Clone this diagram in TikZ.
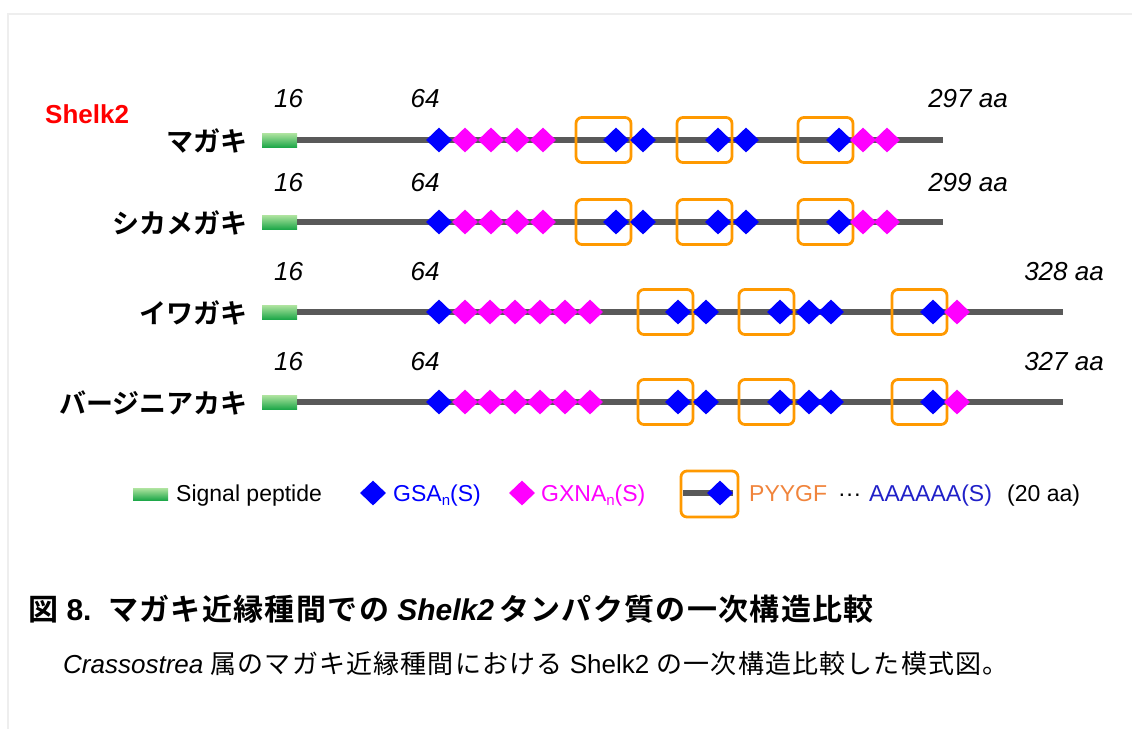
\documentclass[tikz,border=0pt]{standalone}
\usepackage{fontspec}
\setmainfont{Liberation Sans}
\newfontfamily\jp{Noto Sans CJK JP}[BoldFont={Noto Sans CJK JP Bold}]
\newfontfamily\jpsp{Noto Sans CJK JP}[BoldFont={Noto Sans CJK JP Bold},LetterSpace=4.5]
\usetikzlibrary{shapes.geometric}
\definecolor{bb}{HTML}{595959}
\definecolor{gsa}{HTML}{0000FF}
\definecolor{gxna}{HTML}{FF00FF}
\definecolor{boxor}{HTML}{FF9900}
\definecolor{pyy}{HTML}{F0843C}
\definecolor{aaa}{HTML}{2020C8}
\definecolor{spt}{HTML}{B0E4A0}
\definecolor{spb}{HTML}{1FA84A}
\definecolor{framec}{HTML}{EEEEEE}
\begin{document}
\begin{tikzpicture}[x=1pt,y=-1pt,
  backbone/.style={draw=bb,line width=6pt},
  sig/.style={rectangle,minimum width=35pt,minimum height=14pt,inner sep=0pt,top color=spt,bottom color=spb,draw=none},
  gsad/.style={diamond,fill=gsa,minimum width=26pt,minimum height=25pt,inner sep=0pt},
  gxnad/.style={diamond,fill=gxna,minimum width=26pt,minimum height=25pt,inner sep=0pt},
  motif/.style={rectangle,draw=boxor,line width=2.8pt,rounded corners=6pt,minimum width=55pt,minimum height=45pt,inner sep=0pt},
  num/.style={font=\fontsize{26}{30}\selectfont\itshape,inner sep=0pt},
  spec/.style={font=\jp\bfseries\fontsize{27}{30}\selectfont,inner sep=0pt,anchor=east},
  legt/.style={font=\fontsize{23}{28}\selectfont,inner sep=0pt,anchor=base west},
]
\useasboundingbox (0,0) rectangle (1132,729);
\draw[framec,line width=1.5pt] (8,729) -- (8,14) -- (1132,14);

\node[font=\bfseries\fontsize{26}{30}\selectfont,text=red,inner sep=0pt,anchor=base west] (shelk) at (45,123) {Shelk2};

% ---- Row 1
\node[spec] (n1) at (248,141) {マガキ};
\node[sig] (sp1) at (279.5,140) {};
\coordinate (e1) at (943,140);
\draw[backbone] (sp1.east) -- (e1);
\foreach \x [count=\i] in {603.5,704.5,825.5} \node[motif] (r1m\i) at (\x,140) {};
\foreach \x [count=\i] in {439,616,643,718,746,839} \node[gsad] (r1b\i) at (\x,140) {};
\foreach \x [count=\i] in {465,491,517,543,863,887} \node[gxnad] (r1p\i) at (\x,140) {};
\node[num,anchor=base] (r1a) at (288.5,107) {16};
\node[num,anchor=base] (r1b) at (425,107) {64};
\node[num,anchor=base east] (r1c) at (1008,107) {297 aa};

% ---- Row 2
\node[spec] (n2) at (248,223) {シカメガキ};
\node[sig] (sp2) at (279.5,222) {};
\coordinate (e2) at (943,222);
\draw[backbone] (sp2.east) -- (e2);
\foreach \x [count=\i] in {603.5,704.5,825.5} \node[motif] (r2m\i) at (\x,222) {};
\foreach \x [count=\i] in {439,616,643,718,746,839} \node[gsad] (r2b\i) at (\x,222) {};
\foreach \x [count=\i] in {465,491,517,543,863,887} \node[gxnad] (r2p\i) at (\x,222) {};
\node[num,anchor=base] (r2a) at (288.5,191) {16};
\node[num,anchor=base] (r2b) at (425,191) {64};
\node[num,anchor=base east] (r2c) at (1008,191) {299 aa};

% ---- Row 3
\node[spec] (n3) at (248,313) {イワガキ};
\node[sig] (sp3) at (279.5,312) {};
\coordinate (e3) at (1063,312);
\draw[backbone] (sp3.east) -- (e3);
\foreach \x [count=\i] in {665.5,766.5,919.5} \node[motif] (r3m\i) at (\x,312) {};
\foreach \x [count=\i] in {439,678,706,780,809,831,933} \node[gsad] (r3b\i) at (\x,312) {};
\foreach \x [count=\i] in {465,490,515,540,565,590,957} \node[gxnad] (r3p\i) at (\x,312) {};
\node[num,anchor=base] (r3a) at (288.5,280) {16};
\node[num,anchor=base] (r3b) at (425,280) {64};
\node[num,anchor=base east] (r3c) at (1104,280) {328 aa};

% ---- Row 4
\node[spec] (n4) at (248,403) {バージニアカキ};
\node[sig] (sp4) at (279.5,402) {};
\coordinate (e4) at (1063,402);
\draw[backbone] (sp4.east) -- (e4);
\foreach \x [count=\i] in {665.5,766.5,919.5} \node[motif] (r4m\i) at (\x,402) {};
\foreach \x [count=\i] in {439,678,706,780,809,831,933} \node[gsad] (r4b\i) at (\x,402) {};
\foreach \x [count=\i] in {465,490,515,540,565,590,957} \node[gxnad] (r4p\i) at (\x,402) {};
\node[num,anchor=base] (r4a) at (288.5,370) {16};
\node[num,anchor=base] (r4b) at (425,370) {64};
\node[num,anchor=base east] (r4c) at (1104,370) {327 aa};

% ---- Legend
\node[sig,minimum height=12pt] (lsp) at (150.5,494) {};
\node[legt] (lspt) at (176,501.5) {Signal peptide};
\node[gsad] (lgsa) at (373,493) {};
\node[legt,text=gsa] (lgsat) at (393,501.5) {GSA\raisebox{-4pt}{\fontsize{15}{15}\selectfont n}(S)};
\node[gxnad] (lgxna) at (522,493) {};
\node[legt,text=gxna] (lgxnat) at (541,501.5) {GXNA\raisebox{-4pt}{\fontsize{15}{15}\selectfont n}(S)};
\node[motif,minimum width=57pt,minimum height=46pt] (lbox) at (709.5,494) {};
\coordinate (la) at (683,493);
\coordinate (lb) at (733,493);
\draw[backbone] (la) -- (lb);
\node[gsad] (lmd) at (720,493) {};
\node[legt,text=pyy] (lpy) at (749,501.5) {PYYGF};
\node[legt] (ldots) at (838,501.5) {···};
\node[legt,text=aaa] (laa) at (869,501.5) {AAAAAA(S)};
\node[legt] (l20) at (1007,501.5) {(20 aa)};

% ---- Title and caption
\node[font=\fontsize{30}{34}\selectfont\bfseries,inner sep=0pt,anchor=base west] (ttl) at (28,620)
  {{\jpsp 図}\ 8.\ \ {\jpsp マガキ近縁種間での}\ \textit{Shelk2}\,{\jpsp タンパク質の一次構造比較}};
\node[font=\fontsize{26}{30}\selectfont,inner sep=0pt,anchor=base west] (cap) at (63,673)
  {\textit{Crassostrea}\ {\jpsp 属のマガキ近縁種間における}\ Shelk2\ {\jpsp の一次構造比較した模式図。}};
\end{tikzpicture}
\end{document}
